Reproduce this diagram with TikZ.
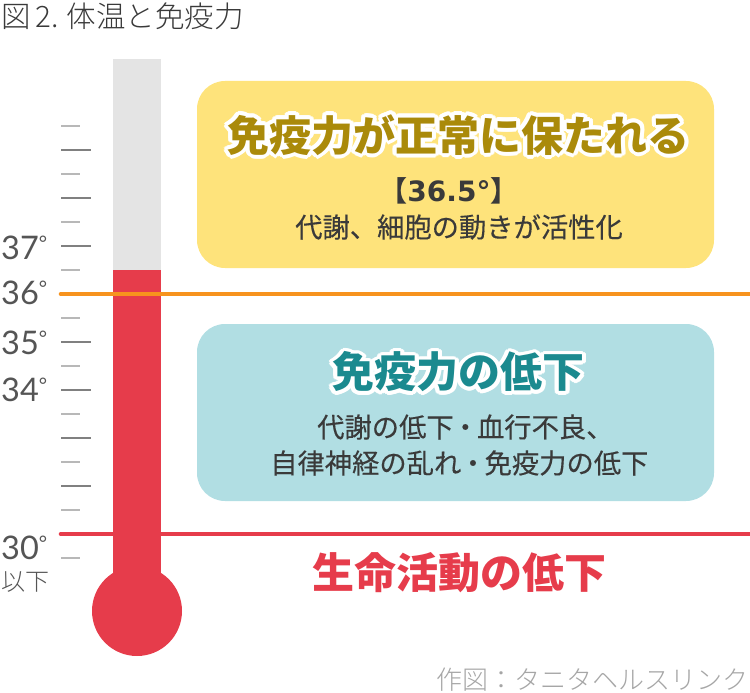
\documentclass[tikz,border=0pt]{standalone}
\usepackage{fontspec}
\usetikzlibrary{calc}
\setmainfont{Noto Sans CJK JP}
\newfontfamily\jplight{Noto Sans CJK JP Light}
\newfontfamily\jpreg{Noto Sans CJK JP}[FakeBold=0.25]
\newfontfamily\jpbold{Noto Sans CJK JP Black}
\newfontfamily\numfont{Lato}
\newfontfamily\numbold{DejaVu Sans Bold}
\definecolor{cyellow}{HTML}{FEE37B}
\definecolor{cteal}{HTML}{B1DEE3}
\definecolor{cgold}{HTML}{AA8A0A}
\definecolor{ctealtxt}{HTML}{1B8A8F}
\definecolor{cred}{HTML}{E63C4B}
\definecolor{corange}{HTML}{F7931E}
\definecolor{ctube}{HTML}{E4E4E4}
\definecolor{cdark}{HTML}{3A3A3A}
\definecolor{cnum}{HTML}{555555}
\newcommand{\fs}[1]{\fontsize{#1}{#1}\selectfont}
\newcommand{\degmark}{\raisebox{9pt}{\fs{20}°}}
\newcommand{\nakaten}{\hspace{-2pt}・\hspace{-2pt}}
\tikzset{
  box/.style={rounded corners=28pt,draw=none},
  longtick/.style={draw=black!50,line width=1.6pt},
  shorttick/.style={draw=black!28,line width=1.6pt},
  lvl/.style={line width=4.6pt,line cap=round},
  numlabel/.style={inner sep=0,anchor=west,text=cnum,font=\numfont\fs{32.5}},
  bodytxt/.style={inner sep=0,text=cdark,font=\jpreg\fs{27.3}},
  halotxt/.style={inner sep=0,text=white,font=\jpbold\fs{42}},
  head/.style={inner sep=0,font=\jpbold\fs{42}},
}
\newcommand{\halotext}[3]{%
  \foreach \a in {0,22.5,...,337.5}
    \node[halotxt] at ($(#1,#2)+(\a:3.8)$) {#3};
}
\begin{document}
\begin{tikzpicture}[x=1pt,y=-1pt]
\useasboundingbox (0,0) rectangle (750,693);
% boxes
\fill[box,cyellow] (197,81) rectangle (714,268);
\fill[box,cteal] (197,324) rectangle (714,501);
% ticks
\foreach \y in {126,174,222,270,318,366,414,462,510,558} \draw[shorttick] (61,\y) -- (80,\y);
\foreach \y in {150,198,246,342,390,438,486} \draw[longtick] (61,\y) -- (91,\y);
% level lines
\draw[lvl,corange] (61,294) -- (752,294);
\draw[lvl,cred] (61,534) -- (752,534);
% thermometer
\fill[ctube] (113,59) rectangle (161,270);
\fill[cred] (113,270) rectangle (161,600);
\fill[corange] (113,291.7) rectangle (161,296.3);
\fill[cred] (137,611) circle (45);
% title
\node[inner sep=0,anchor=west,text=cdark,font=\jplight\fs{29.5}] (title) at (1,16) {図\hspace{5pt}2.\hspace{8pt}体温と免疫力};
% numbers
\node[numlabel] (n37) at (1,248) {37\degmark};
\node[numlabel] (n36) at (1,293) {36\degmark};
\node[numlabel] (n35) at (1,343) {35\degmark};
\node[numlabel] (n34) at (1,390) {34\degmark};
\node[numlabel] (n30) at (1,548) {30\degmark};
\node[inner sep=0,anchor=west,text=cnum,font=\jplight\fs{24}] (ika) at (1,582) {以下};
% yellow box text
\halotext{458.5}{135}{免疫力が正常に保たれる}
\node[head,text=cgold] (t1) at (458.5,135) {免疫力が正常に保たれる};
\node[inner sep=0,text=cdark,font=\numbold\fs{28}] (t2) at (449,191) {{\jpbold\fs{28}【}\hspace{0pt}36.5°\hspace{0pt}{\jpbold\fs{28}】}};
\node[bodytxt] (t3) at (459,227) {代謝、細胞の動きが活性化};
% teal box text
\halotext{458.5}{372}{免疫力の低下}
\node[head,text=ctealtxt] (t4) at (458.5,372) {免疫力の低下};
\node[bodytxt,anchor=west] (t5) at (317,427) {代謝の低下\nakaten 血行不良、};
\node[bodytxt,anchor=west] (t6) at (270,463) {自律神経の乱れ\nakaten 免疫力の低下};
% bottom
\node[head,text=cred] (t7) at (459,573) {生命活動の低下};
\node[inner sep=0,anchor=east,text=black!35,font=\jplight\fs{26}] (credit) at (749,680) {作図：タニタヘルスリンク};
\end{tikzpicture}
\end{document}
